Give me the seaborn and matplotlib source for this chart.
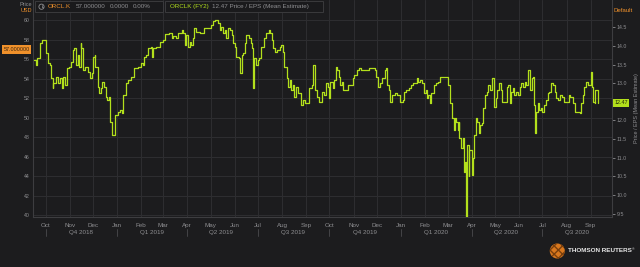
import matplotlib
matplotlib.use("Agg")
import matplotlib.pyplot as plt
import matplotlib.dates as mdates
import matplotlib.transforms as mtransforms
from matplotlib.patches import Rectangle, Circle
from matplotlib.lines import Line2D
import seaborn as sns
import pandas as pd

# ---------------- data ----------------
dates = [
    "2018-09-16", "2018-09-19", "2018-09-20", "2018-09-24", "2018-09-26", "2018-10-01", "2018-10-02", "2018-10-04",
    "2018-10-07", "2018-10-08", "2018-10-10", "2018-10-11", "2018-10-14", "2018-10-17", "2018-10-19", "2018-10-22",
    "2018-10-23", "2018-10-26", "2018-10-28", "2018-10-31", "2018-11-03", "2018-11-05", "2018-11-07", "2018-11-09",
    "2018-11-11", "2018-11-13", "2018-11-15", "2018-11-16", "2018-11-18", "2018-11-21", "2018-11-24", "2018-11-27",
    "2018-11-29", "2018-12-01", "2018-12-03", "2018-12-04", "2018-12-06", "2018-12-07", "2018-12-09", "2018-12-11",
    "2018-12-13", "2018-12-15", "2018-12-18", "2018-12-19", "2018-12-22", "2018-12-23", "2018-12-25", "2018-12-28",
    "2018-12-29", "2019-01-02", "2019-01-05", "2019-01-07", "2019-01-08", "2019-01-12", "2019-01-15", "2019-01-19",
    "2019-01-23", "2019-01-28", "2019-01-31", "2019-02-03", "2019-02-05", "2019-02-07", "2019-02-10", "2019-02-13",
    "2019-02-15", "2019-02-16", "2019-02-20", "2019-02-25", "2019-03-01", "2019-03-04", "2019-03-09", "2019-03-12",
    "2019-03-14", "2019-03-17", "2019-03-20", "2019-03-25", "2019-03-27", "2019-03-29", "2019-03-31", "2019-04-02",
    "2019-04-04", "2019-04-06", "2019-04-08", "2019-04-10", "2019-04-12", "2019-04-17", "2019-04-21", "2019-04-23",
    "2019-04-28", "2019-05-01", "2019-05-04", "2019-05-07", "2019-05-10", "2019-05-13", "2019-05-15", "2019-05-17",
    "2019-05-19", "2019-05-21", "2019-05-23", "2019-05-26", "2019-05-28", "2019-05-30", "2019-06-01", "2019-06-03",
    "2019-06-06", "2019-06-08", "2019-06-10", "2019-06-12", "2019-06-14", "2019-06-16", "2019-06-19", "2019-06-22",
    "2019-06-24", "2019-06-25", "2019-06-26", "2019-06-29", "2019-07-01", "2019-07-03", "2019-07-05", "2019-07-09",
    "2019-07-12", "2019-07-15", "2019-07-17", "2019-07-19", "2019-07-21", "2019-07-23", "2019-07-26", "2019-07-29",
    "2019-07-31", "2019-08-02", "2019-08-04", "2019-08-07", "2019-08-09", "2019-08-11", "2019-08-13", "2019-08-15",
    "2019-08-17", "2019-08-19", "2019-08-22", "2019-08-25", "2019-08-28", "2019-08-31", "2019-09-03", "2019-09-05",
    "2019-09-08", "2019-09-10", "2019-09-11", "2019-09-13", "2019-09-15", "2019-09-17", "2019-09-21", "2019-09-24",
    "2019-09-27", "2019-09-29", "2019-09-30", "2019-10-02", "2019-10-05", "2019-10-07", "2019-10-09", "2019-10-11",
    "2019-10-13", "2019-10-15", "2019-10-17", "2019-10-18", "2019-10-23", "2019-10-25", "2019-10-28", "2019-10-31",
    "2019-11-02", "2019-11-05", "2019-11-08", "2019-11-11", "2019-11-14", "2019-11-17", "2019-11-21", "2019-11-25",
    "2019-11-28", "2019-11-30", "2019-12-02", "2019-12-05", "2019-12-08", "2019-12-11", "2019-12-13", "2019-12-14",
    "2019-12-16", "2019-12-18", "2019-12-21", "2019-12-24", "2019-12-27", "2019-12-29", "2019-12-31", "2020-01-03",
    "2020-01-05", "2020-01-08", "2020-01-11", "2020-01-14", "2020-01-17", "2020-01-21", "2020-01-23", "2020-01-26",
    "2020-01-28", "2020-01-31", "2020-02-02", "2020-02-03", "2020-02-05", "2020-02-07", "2020-02-09", "2020-02-12",
    "2020-02-15", "2020-02-18", "2020-02-20", "2020-02-23", "2020-02-26", "2020-02-29", "2020-03-01", "2020-03-04",
    "2020-03-06", "2020-03-07", "2020-03-09", "2020-03-10", "2020-03-12", "2020-03-14", "2020-03-15", "2020-03-16",
    "2020-03-18", "2020-03-21", "2020-03-22", "2020-03-23", "2020-03-24", "2020-03-26", "2020-03-28", "2020-03-29",
    "2020-04-01", "2020-04-03", "2020-04-04", "2020-04-06", "2020-04-08", "2020-04-10", "2020-04-12", "2020-04-14",
    "2020-04-16", "2020-04-18", "2020-04-20", "2020-04-22", "2020-04-25", "2020-04-27", "2020-04-29", "2020-04-30",
    "2020-05-02", "2020-05-04", "2020-05-06", "2020-05-08", "2020-05-10", "2020-05-14", "2020-05-16", "2020-05-18",
    "2020-05-20", "2020-05-22", "2020-05-24", "2020-05-26", "2020-05-28", "2020-05-31", "2020-06-02", "2020-06-04",
    "2020-06-06", "2020-06-08", "2020-06-10", "2020-06-12", "2020-06-13", "2020-06-15", "2020-06-17", "2020-06-19",
    "2020-06-20", "2020-06-21", "2020-06-23", "2020-06-25", "2020-06-26", "2020-06-29", "2020-07-01", "2020-07-03",
    "2020-07-06", "2020-07-08", "2020-07-10", "2020-07-12", "2020-07-14", "2020-07-17", "2020-07-19", "2020-07-21",
    "2020-07-23", "2020-07-26", "2020-07-29", "2020-08-01", "2020-08-04", "2020-08-06", "2020-08-09", "2020-08-12",
    "2020-08-16", "2020-08-18", "2020-08-19", "2020-08-22", "2020-08-24", "2020-08-26", "2020-08-29", "2020-09-01",
    "2020-09-03", "2020-09-04", "2020-09-06", "2020-09-07", "2020-09-10", "2020-09-11",
]
pe_values = [
    13.62, 13.49, 13.67, 14.07, 14.16, 14.16, 13.80, 13.53,
    13.49, 13.13, 12.86, 13.00, 13.17, 13.00, 13.13, 12.86,
    13.17, 12.95, 13.40, 13.44, 13.58, 13.89, 13.93, 13.49,
    13.75, 13.44, 14.07, 13.93, 13.35, 13.44, 13.31, 13.13,
    13.26, 13.71, 13.75, 13.44, 13.44, 12.90, 12.73, 12.86,
    13.04, 12.90, 12.64, 12.55, 12.64, 11.97, 11.61, 11.61,
    12.15, 12.23, 12.28, 12.19, 12.68, 13.00, 13.08, 13.17,
    13.40, 13.44, 13.53, 13.49, 13.71, 13.75, 13.93, 13.98,
    13.71, 13.93, 13.98, 14.11, 14.16, 14.31, 14.34, 14.20,
    14.27, 14.22, 14.34, 14.42, 14.34, 14.02, 14.29, 13.98,
    14.11, 14.02, 14.20, 14.47, 14.38, 14.34, 14.34, 14.47,
    14.49, 14.56, 14.67, 14.69, 14.60, 14.42, 14.51, 14.34,
    14.42, 14.20, 14.47, 14.42, 14.29, 14.07, 13.98, 13.71,
    13.67, 13.26, 13.75, 13.80, 14.07, 14.29, 14.20, 14.07,
    13.93, 12.86, 13.67, 13.49, 13.62, 13.67, 13.98, 14.20,
    14.34, 14.42, 14.34, 14.16, 13.93, 13.84, 13.89, 13.98,
    14.02, 13.84, 13.44, 13.13, 12.90, 13.08, 12.82, 12.95,
    12.64, 12.90, 12.73, 12.41, 12.55, 12.46, 12.46, 12.86,
    12.95, 13.49, 13.49, 12.82, 12.64, 12.49, 12.75, 12.68,
    13.00, 12.90, 12.59, 13.04, 12.86, 13.08, 13.44, 13.35,
    13.17, 12.95, 13.04, 12.82, 12.82, 12.95, 12.95, 13.13,
    13.22, 13.35, 13.40, 13.35, 13.35, 13.35, 13.40, 13.41,
    13.35, 13.17, 12.90, 13.00, 13.13, 13.35, 13.40, 12.95,
    12.82, 12.50, 12.68, 12.73, 12.68, 12.68, 12.50, 12.55,
    12.77, 12.82, 12.88, 12.95, 13.00, 13.13, 13.04, 13.08,
    13.00, 12.73, 12.82, 12.59, 12.68, 12.46, 12.73, 12.95,
    13.00, 13.04, 13.17, 13.17, 13.16, 13.16, 12.95, 12.46,
    12.33, 12.06, 11.74, 12.06, 11.97, 11.74, 11.97, 11.52,
    11.25, 11.52, 10.63, 10.89, 9.42, 11.34, 10.50, 11.20,
    10.54, 10.98, 11.61, 12.06, 11.97, 11.66, 11.88, 11.92,
    12.33, 12.68, 12.77, 12.95, 12.82, 13.13, 12.95, 12.37,
    12.59, 12.82, 13.00, 12.82, 12.50, 12.49, 12.90, 12.95,
    12.46, 12.77, 12.86, 12.68, 12.77, 12.68, 12.90, 13.00,
    12.90, 13.04, 12.95, 13.31, 13.35, 12.82, 13.13, 13.17,
    12.41, 11.66, 12.23, 12.46, 12.28, 12.33, 12.23, 12.41,
    12.55, 12.73, 12.77, 13.00, 12.95, 12.77, 12.59, 12.55,
    12.68, 12.64, 12.50, 12.50, 12.68, 12.64, 12.46, 12.23,
    12.22, 12.19, 12.46, 12.68, 12.90, 13.04, 12.95, 13.31,
    12.90, 12.50, 12.46, 12.82, 12.77, 12.47,
]
price_ticks = [40, 42, 44, 46, 48, 50, 52, 54, 56, 58, 60]
pe_ticks = [9.5, 10.0, 10.5, 11.0, 11.5, 12.0, 12.5, 13.0, 13.5, 14.0, 14.5]
quarter_names = ["Q4 2018", "Q1 2019", "Q2 2019", "Q3 2019",
                 "Q4 2019", "Q1 2020", "Q2 2020", "Q3 2020"]
last_price = 57.0
last_pe = 12.47

month_starts = pd.date_range("2018-10-01", "2020-09-01", freq="MS")
quarter_starts = pd.date_range("2018-10-01", "2020-07-01", freq="QS")

# ---------------- style ----------------
BG = "#1c1c1e"
GRID = "#2d2d30"
SPINE = "#3d3d40"
TXT = "#8e8e91"
GREEN = "#b3e01c"
ORANGE = "#f0912b"

sns.set_style("dark")
plt.rcParams["font.family"] = ["Liberation Sans", "DejaVu Sans"]

W, H = 640, 267
fig = plt.figure(figsize=(6.4, 2.67), dpi=100, facecolor=BG)


def fx(px):
    return px / W


def fy(py):
    return 1 - py / H


ax = fig.add_axes([fx(33), fy(217), fx(612) - fx(33), fy(0) - fy(217)])
ax.set_facecolor(BG)
ax.set_ylim(39.79, 62.1)
ax.set_yticks(price_ticks)
ax.set_yticklabels([str(t) for t in price_ticks])
ax.set_xlim(pd.Timestamp("2018-09-14 16:00"), pd.Timestamp("2020-09-28 10:00"))
ax.set_xticks(month_starts)
ax.xaxis.set_major_formatter(mdates.DateFormatter("%b"))
ax.grid(True, color=GRID, lw=0.8)
ax.tick_params(axis="x", length=0, labelsize=4.5, colors=TXT, pad=4.2)
ax.tick_params(axis="y", length=0, labelsize=3.8, colors=TXT, pad=2.5)
for s in ["top", "right"]:
    ax.spines[s].set_visible(False)
for s in ["left", "bottom"]:
    ax.spines[s].set_color(SPINE)
    ax.spines[s].set_linewidth(0.8)

ax2 = ax.twinx()
ax2.patch.set_visible(False)
sns.lineplot(x=pd.to_datetime(dates), y=pe_values, ax=ax2, color=GREEN,
             lw=0.9, drawstyle="steps-post")
ax2.set_ylim(9.41, 15.23)
ax2.set_yticks(pe_ticks)
# the 12.5 label sits under the last-value badge, as in the reference
ax2.set_yticklabels(["" if abs(t - 12.5) < 1e-9 else f"{t:.1f}" for t in pe_ticks])
ax2.set_xlim(ax.get_xlim())
ax2.grid(False)
ax2.set_ylabel("")
ax2.tick_params(axis="y", length=2, width=0.6, color=TXT, colors=TXT,
                labelsize=3.8, pad=1.5)
for s in ["top", "left", "bottom"]:
    ax2.spines[s].set_visible(False)
ax2.spines["right"].set_color(SPINE)
ax2.spines["right"].set_linewidth(0.8)

# quarter separators and labels under the month labels
trans = mtransforms.blended_transform_factory(ax.transData, ax.transAxes)
for q, name in zip(quarter_starts, quarter_names):
    xq = mdates.date2num(q)
    ax.add_line(Line2D([xq, xq], [-0.0553, -0.0876], transform=trans,
                       color="#4a4a4d", lw=0.6, clip_on=False))
    mid = mdates.date2num(q + pd.DateOffset(months=1, days=14))
    ax.text(mid, -0.0705, name, transform=trans, ha="center", va="center",
            fontsize=4.5, color=TXT)

# last-value labels on the axes
ax.text(-0.0285, last_price, f"{last_price:.6f}", transform=ax.get_yaxis_transform(),
        ha="center", va="center", fontsize=3.9, color="#3a230d", zorder=10, clip_on=False,
        bbox=dict(boxstyle="square,pad=0.3", fc=ORANGE, ec="none"))
ax2.text(1.0155, last_pe, f"{last_pe:.2f}", transform=ax2.get_yaxis_transform(),
         ha="center", va="center", fontsize=3.9, color="#1f2a06", zorder=10, clip_on=False,
         bbox=dict(boxstyle="square,pad=0.3", fc=GREEN, ec="none"))

# header
fig.text(fx(32), fy(5), "Price", ha="right", va="center", fontsize=4, color=TXT)
fig.text(fx(32), fy(10.3), "USD", ha="right", va="center", fontsize=4, color=ORANGE)
for x0, x1 in [(35, 163), (165, 323)]:
    fig.add_artist(Rectangle((fx(x0), fy(12.3)), fx(x1) - fx(x0), fy(1.3) - fy(12.3),
                             transform=fig.transFigure, facecolor="#1a1a1c",
                             edgecolor="#3a3a3d", lw=0.7, zorder=5))
cx, cy = 41.5 / 100, (H - 6.7) / 100
fig.add_artist(Circle((cx, cy), 0.026, transform=fig.dpi_scale_trans, fill=False,
                      edgecolor=TXT, lw=0.6, zorder=6))
fig.add_artist(Line2D([cx, cx], [cy, cy + 0.017], transform=fig.dpi_scale_trans,
                      color=TXT, lw=0.5, zorder=6))
fig.add_artist(Line2D([cx, cx + 0.013], [cy, cy], transform=fig.dpi_scale_trans,
                      color=TXT, lw=0.5, zorder=6))
hy = fy(6.9)
fig.text(fx(47.3), hy, "ORCL.K", ha="left", va="center", fontsize=4.5, color=ORANGE, zorder=7)
fig.text(fx(76), hy, "57.000000", ha="left", va="center", fontsize=4.5, color=TXT, zorder=7)
fig.text(fx(109.3), hy, "0.0000", ha="left", va="center", fontsize=4.5, color=TXT, zorder=7)
fig.text(fx(132.3), hy, "0.00%", ha="left", va="center", fontsize=4.5, color=TXT, zorder=7)
fig.text(fx(170), hy, "ORCLK (FY2)", ha="left", va="center", fontsize=4.5, color=GREEN, zorder=7)
fig.text(fx(212.3), hy, "12.47 Price / EPS (Mean Estimate)", ha="left", va="center",
         fontsize=4.5, color=TXT, zorder=7)
fig.text(fx(613), fy(10.3), "Default", ha="left", va="center", fontsize=4.4, color=ORANGE)
fig.text(fx(636.7), fy(108), "Price / EPS (Mean Estimate)", rotation=90,
         ha="center", va="center", fontsize=4, color=TXT)

# logo
fig.add_artist(Circle((557.3 / 100, (H - 251) / 100), 0.075, transform=fig.dpi_scale_trans,
                      facecolor="#d9781e", edgecolor="#7a3f0c", hatch="xxxx", lw=0))
fig.text(fx(568), fy(251), "THOMSON REUTERS", ha="left", va="center", fontsize=4.6,
         fontweight="bold", color="#e6e6e6")
fig.text(fx(632), fy(249), "\u00ae", ha="left", va="center", fontsize=2.5, color="#e6e6e6")

fig.savefig("out.png", dpi=100, facecolor=BG)
